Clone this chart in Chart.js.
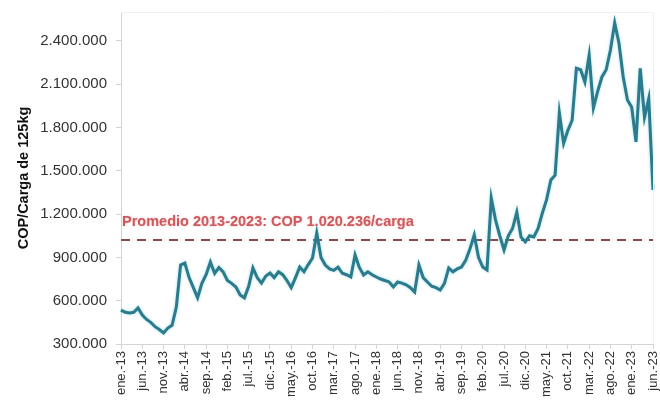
<!DOCTYPE html>
<html>
<head>
<meta charset="utf-8">
<script src="https://cdn.jsdelivr.net/npm/chart.js@4.4.0/dist/chart.umd.min.js"></script>
<style>
  html, body { margin: 0; padding: 0; background: #fff; }
</style>
</head>
<body>
<canvas id="grafico" width="660" height="404"></canvas>
<script>
// mesi mensili gen 2013 - giu 2023
const nomiMesi = ["ene.", "feb.", "mar.", "abr.", "may.", "jun.", "jul.", "ago.", "sep.", "oct.", "nov.", "dic."];
const anni = [13, 14, 15, 16, 17, 18, 19, 20, 21, 22, 23];

const tickMostrati = [
  "ene.-13", "jun.-13", "nov.-13", "abr.-14", "sep.-14", "feb.-15", "jul.-15", "dic.-15",
  "may.-16", "oct.-16", "mar.-17", "ago.-17", "ene.-18", "jun.-18", "nov.-18", "abr.-19",
  "sep.-19", "feb.-20", "jul.-20", "dic.-20", "may.-21", "oct.-21", "mar.-22", "ago.-22",
  "ene.-23", "jun.-23"
];

const valoriAsseY = [300000, 600000, 900000, 1200000, 1500000, 1800000, 2100000, 2400000];

// COP per carga de 125 kg, un valore al mese
const prezzi = [
  535000, 520000, 515000, 520000, 550000, 500000, 470000, 450000, 420000, 400000, 376000, 410000,
  430000, 556000, 847000, 860000, 760000, 690000, 620000, 720000, 780000, 868000, 790000, 830000,
  800000, 740000, 720000, 695000, 640000, 620000, 700000, 827000, 760000, 722000, 770000, 792000,
  760000, 800000, 780000, 740000, 690000, 760000, 833000, 800000, 850000, 896000, 1069000, 900000,
  847000, 820000, 810000, 833000, 790000, 780000, 764000, 917000, 830000, 778000, 800000, 780000,
  764000, 750000, 740000, 730000, 695000, 730000, 722000, 710000, 690000, 660000, 847000, 760000,
  730000, 700000, 690000, 674000, 720000, 827000, 800000, 820000, 833000, 880000, 960000, 1055000,
  900000, 833000, 813000, 1311000, 1160000, 1050000, 951000, 1050000, 1100000, 1214000, 1040000, 1007000,
  1050000, 1041000, 1100000, 1207000, 1300000, 1436000, 1470000, 1900000, 1690000, 1780000, 1850000, 2210000,
  2200000, 2115000, 2300000, 1935000, 2050000, 2150000, 2200000, 2337000, 2524000, 2385000, 2150000, 1990000,
  1940000, 1700000, 2210000, 1870000, 2000000, 1367000
];

const promedio = 1020236;
const testoPromedio = "Promedio 2013-2023: COP 1.020.236/carga";

const etichette = [];
anni.forEach(a => nomiMesi.forEach(m => etichette.push(`${m}-${a}`)));
etichette.length = prezzi.length;

const formatta = (v) => v.toString().replace(/\B(?=(\d{3})+(?!\d))/g, ".");

const pluginPromedio = {
  id: "promedio",
  beforeDatasetDraw(chart, args) {
    if (args.index === 0) {
      const ctx = chart.ctx;
      ctx.save();
      ctx.shadowColor = "rgba(90, 190, 205, 0.55)";
      ctx.shadowBlur = 3;
    }
  },
  afterDatasetDraw(chart, args) {
    if (args.index === 0) chart.ctx.restore();
  },
  afterDraw(chart) {
    const { ctx, chartArea, scales } = chart;
    const y = scales.y.getPixelForValue(promedio);
    ctx.save();
    // cornice leggera
    ctx.strokeStyle = "#f0f0f0";
    ctx.lineWidth = 1;
    ctx.beginPath();
    ctx.moveTo(chartArea.left, chartArea.top + 0.5);
    ctx.lineTo(chartArea.right + 0.5, chartArea.top + 0.5);
    ctx.lineTo(chartArea.right + 0.5, chartArea.bottom);
    ctx.stroke();
    ctx.font = "bold 14.5px 'Liberation Sans', Arial, sans-serif";
    ctx.fillStyle = "#cf5a5e";
    ctx.textBaseline = "alphabetic";
    ctx.shadowColor = "rgba(230, 150, 150, 0.6)";
    ctx.shadowBlur = 2;
    ctx.fillText(testoPromedio, chartArea.left + 1, y - 14);
    ctx.restore();
  }
};

new Chart(document.getElementById("grafico"), {
  type: "line",
  data: {
    labels: etichette,
    datasets: [
      {
        data: prezzi,
        borderColor: "#2b7b8d",
        borderWidth: 3,
        pointRadius: 0,
        tension: 0
      },
      {
        data: prezzi.map(() => promedio),
        borderColor: "#8a4848",
        borderWidth: 2,
        borderDash: [9, 7],
        pointRadius: 0
      }
    ]
  },
  options: {
    responsive: false,
    animation: false,
    layout: { padding: { left: 8, right: 7, top: 12, bottom: 0 } },
    plugins: { legend: { display: false }, tooltip: { enabled: false } },
    scales: {
      x: {
        offset: false,
        grid: { drawOnChartArea: false, color: "#d4d4d4", tickLength: 5 },
        border: { color: "#d4d4d4" },
        ticks: {
          autoSkip: false,
          maxRotation: 90,
          minRotation: 90,
          padding: 2,
          color: "#333",
          font: { family: "'Liberation Sans', Arial, sans-serif", size: 13 },
          callback(val) {
            const l = this.getLabelForValue(val);
            return tickMostrati.includes(l) ? l : null;
          }
        },
        afterFit(scale) {
          scale.height = 60;
          scale.paddingRight = 0;
          scale.paddingLeft = 0;
        }
      },
      y: {
        min: 300000,
        max: 2600000,
        afterBuildTicks(scale) { scale.ticks = valoriAsseY.map(v => ({ value: v })); },
        grid: { drawOnChartArea: false, color: "#d4d4d4", tickLength: 5 },
        border: { color: "#d4d4d4" },
        ticks: {
          padding: 9,
          color: "#333",
          font: { family: "'Liberation Sans', Arial, sans-serif", size: 15 },
          callback: (v) => formatta(v)
        },
        title: {
          display: true,
          text: "COP/Carga de 125kg",
          color: "#111",
          padding: { top: 7, bottom: 0 },
          font: { family: "'Liberation Sans', Arial, sans-serif", size: 14.5, weight: "bold" }
        },
        afterFit(scale) {
          scale.width = 113;
          scale.paddingTop = 0;
        }
      }
    }
  },
  plugins: [pluginPromedio]
});
</script>
</body>
</html>
